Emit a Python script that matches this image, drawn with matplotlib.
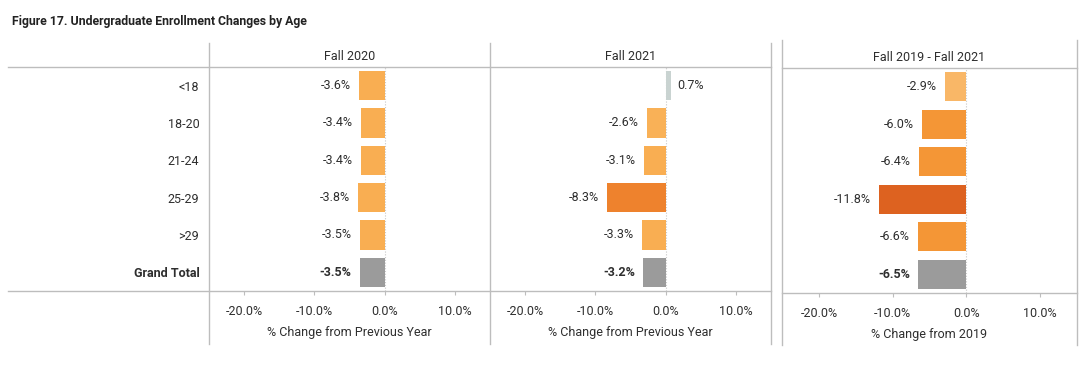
import numpy as np
import matplotlib
matplotlib.use("Agg")
import matplotlib.pyplot as plt
from matplotlib.lines import Line2D
from matplotlib.ticker import FuncFormatter

plt.rcParams['font.family'] = ['Roboto', 'DejaVu Sans']

ages = ["<18", "18-20", "21-24", "25-29", ">29", "Grand Total"]
fall2020 = [-3.6, -3.4, -3.4, -3.8, -3.5, -3.5]
fall2021 = [0.7, -2.6, -3.1, -8.3, -3.3, -3.2]
since2019 = [-2.9, -6.0, -6.4, -11.8, -6.6, -6.5]

colors2020 = ["#F9AE52", "#F9AE52", "#F9AE52", "#F9AE52", "#F9AE52", "#9B9B9B"]
colors2021 = ["#C9D3D1", "#F9B157", "#F9AE52", "#EE822D", "#F9AE52", "#9B9B9B"]
colors2019 = ["#F9B767", "#F49636", "#F49636", "#DD6220", "#F49636", "#9B9B9B"]

titles = ["Fall 2020", "Fall 2021", "Fall 2019 - Fall 2021"]
xlabels = ["% Change from Previous Year", "% Change from Previous Year", "% Change from 2019"]

W, H = 1080, 365
fig = plt.figure(figsize=(W / 100, H / 100), dpi=100)
grey = "#BDBDBD"
txt = "#2E2E2E"


def fx(px):
    return px / W


def fy(py):
    return 1 - py / H


def hline(x0, x1, y):
    fig.add_artist(Line2D([fx(x0), fx(x1)], [fy(y), fy(y)], color=grey, lw=1))


def vline(x, y0, y1):
    fig.add_artist(Line2D([fx(x), fx(x)], [fy(y0), fy(y1)], color=grey, lw=1))


# panel boxes in pixels: left, right, top, bottom
boxes = [(209, 490, 67, 291), (490, 771, 67, 291), (782, 1077, 68, 293)]
series = [fall2020, fall2021, since2019]
colsets = [colors2020, colors2021, colors2019]

y = np.arange(len(ages))
for i, (box, vals, cols) in enumerate(zip(boxes, series, colsets)):
    l, r, t, b = box
    ax = fig.add_axes([fx(l), fy(b), fx(r) - fx(l), fy(t) - fy(b)])
    ax.barh(y, vals, height=0.78, color=cols)
    ax.set_xlim(-25, 15)
    ax.set_ylim(len(ages) - 0.5, -0.5)
    ax.axvline(0, color="#C8C8C8", lw=0.8, ls=(0, (1, 1.5)), zorder=0)
    for s in ax.spines.values():
        s.set_visible(False)
    ax.set_xticks([-20, -10, 0, 10])
    ax.xaxis.set_major_formatter(FuncFormatter(lambda v, p: f"{v:.1f}%"))
    ax.tick_params(axis="x", length=3, color=grey, pad=7, labelsize=9, labelcolor=txt)
    ax.set_xlabel(xlabels[i], fontsize=9, color=txt, labelpad=6)
    ax.set_title(titles[i], fontsize=9, color=txt, pad=5)
    if i == 0:
        ax.set_yticks(y)
        ax.set_yticklabels(ages, fontsize=9, color=txt)
        ax.tick_params(axis="y", length=0, pad=7)
        ax.get_yticklabels()[-1].set_fontweight("bold")
    else:
        ax.set_yticks([])
    for k, v in enumerate(vals):
        bold = "bold" if k == len(vals) - 1 else "normal"
        if v < 0:
            ax.annotate(f"{v:.1f}%", (v, k), xytext=(-6, 0), textcoords="offset points",
                        ha="right", va="center", fontsize=9, color=txt, fontweight=bold)
        else:
            ax.annotate(f"{v:.1f}%", (v, k), xytext=(5, 0), textcoords="offset points",
                        ha="left", va="center", fontsize=9, color=txt, fontweight=bold)

# table lines
hline(8, 771, 67)
hline(8, 771, 291)
hline(782, 1077, 68)
hline(782, 1077, 293)
for xp in (209, 490, 771):
    vline(xp, 43, 344)
for xp in (782, 1077):
    vline(xp, 40, 345)

fig.text(fx(12), fy(22), "Figure 17. Undergraduate Enrollment Changes by Age",
         fontsize=8.8, fontweight="bold", color="#222222", ha="left", va="center")

fig.savefig("out.png", dpi=100, facecolor="white")
